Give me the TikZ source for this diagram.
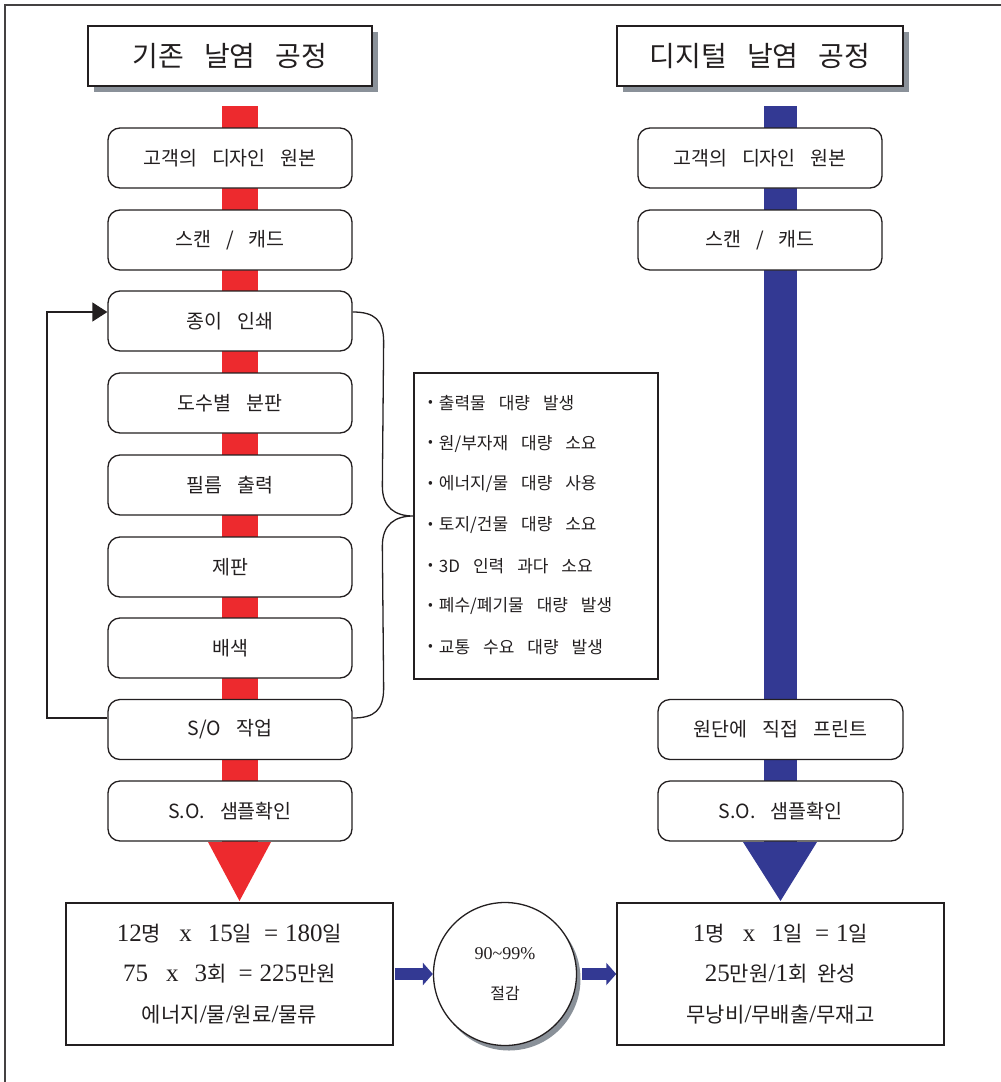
\documentclass[tikz,border=0pt]{standalone}
\usepackage{fontspec}
\setmainfont{Noto Sans CJK KR}[WordSpace=3.4]
\newfontfamily\ser{Liberation Serif}
\usetikzlibrary{arrows.meta,calc,shadows}
\definecolor{fred}{RGB}{237,42,46}
\definecolor{fblue}{RGB}{51,57,147}
\definecolor{shad}{RGB}{138,145,153}
\definecolor{ink}{RGB}{35,31,32}
\newcommand\numf[1]{{\ser\fontsize{25}{28}\selectfont #1}}
\newcommand\numc[1]{{\ser\fontsize{18}{20}\selectfont #1}}
\newcommand\bul{\raisebox{2.5pt}{\fontsize{14}{14}\selectfont •}\hspace{6pt}}
\begin{document}
\begin{tikzpicture}[x=1pt,y=-1pt,
 rbox/.style={draw=ink,line width=1.3pt,fill=white,rounded corners=12pt,minimum width=244pt,minimum height=60pt,inner sep=0pt,font=\fontsize{19.5}{22}\selectfont,text=ink},
 titlebox/.style={draw=ink,line width=1.5pt,fill=white,minimum height=60pt,inner sep=0pt,font=\fontsize{28}{30}\selectfont,text=ink,
   drop shadow={shadow xshift=6pt,shadow yshift=-6pt,opacity=1,fill=shad}},
 resbox/.style={draw=ink,line width=1.5pt,fill=white,minimum width=327pt,minimum height=142pt,inner sep=0pt,text=ink,align=center,font=\fontsize{21}{40.5}\selectfont},
 item/.style={anchor=west,inner sep=0pt,text=ink,font=\fontsize{17}{19}\selectfont},
 line/.style={draw=ink,line width=1.3pt},
 bigarrow/.style={fblue,line width=12pt,-{Triangle[length=10pt,width=22pt]}}
]
\useasboundingbox (0,0) rectangle (1001,1082);
\draw[ink!85,line width=1.5pt] (5,1082) -- (5,5) -- (1001,5);

% flow bars
\fill[fred] (222,106) rectangle (258,842);
\fill[fred] (208,842) -- (271,842) -- (239.5,901) -- cycle;
\fill[fblue] (764,106) rectangle (797,842);
\fill[fblue] (743,842) -- (817,842) -- (780.5,901) -- cycle;

% titles
\node[titlebox,minimum width=284pt] (t1) at (230,56) {기존\hspace{20pt}날염\hspace{20pt}공정};
\node[titlebox,minimum width=286pt] (t2) at (760,56) {디지털\hspace{20pt}날염\hspace{20pt}공정};

% left process
\node[rbox] (a1) at (230,158) {고객의 디자인 원본};
\node[rbox] (a2) at (230,240) {스캔 / 캐드};
\node[rbox] (a3) at (230,321) {종이 인쇄};
\node[rbox] (a4) at (230,403) {도수별 분판};
\node[rbox] (a5) at (230,485) {필름 출력};
\node[rbox] (a6) at (230,567) {제판};
\node[rbox] (a7) at (230,648) {배색};
\node[rbox] (a8) at (230,729.5) {S/O 작업};
\node[rbox] (a9) at (230,811) {S.O. 샘플확인};

% right process
\node[rbox] (b1) at (760,158) {고객의 디자인 원본};
\node[rbox] (b2) at (760,240) {스캔 / 캐드};
\node[rbox,minimum width=245pt] (b3) at (780.5,729.5) {원단에 직접 프린트};
\node[rbox,minimum width=245pt] (b4) at (780.5,811) {S.O. 샘플확인};

% list of problems
\node[line,minimum width=244pt,minimum height=306pt,inner sep=0pt] (lst) at (536,526) {};
\foreach \t [count=\i] in {출력물 대량 발생,원/부자재 대량 소요,에너지/물 대량 사용,토지/건물 대량 소요,3D 인력 과다 소요,폐수/폐기물 대량 발생,교통 수요 대량 발생}
  \node[item] (i\i) at ({428},{403+40.67*(\i-1)}) {\bul\t};

% results
\node[resbox] (lb) at (229.5,974) {\numf{12}명\hspace{18pt}\numf{x}\hspace{16pt}\numf{15}일\hspace{12pt}\numf{=}\hspace{7pt}\numf{180}일\\
\numf{75}\hspace{18pt}\numf{x}\hspace{16pt}\numf{3}회\hspace{12pt}\numf{=}\hspace{7pt}\numf{225}만원\\
에너지\numf{/}물\numf{/}원료\numf{/}물류};
\node[resbox] (rb) at (780.5,974) {\numf{1}명\hspace{18pt}\numf{x}\hspace{16pt}\numf{1}일\hspace{12pt}\numf{=}\hspace{7pt}\numf{1}일\\
\numf{25}만원\numf{/1}회\hspace{10pt}완성\\
무낭비\numf{/}무배출\numf{/}무재고};

\node[circle,draw=ink,line width=1.3pt,fill=white,minimum size=143pt,inner sep=0pt,text=ink,align=center,
  font=\fontsize{16}{40}\selectfont,
  drop shadow={shadow xshift=4pt,shadow yshift=-5pt,opacity=1,fill=shad}] (circ) at (505,974)
  {\numc{90\textasciitilde99\%}\\절감};

% blue arrows
\draw[bigarrow] ($(lb.east)+(1,0)$) -- (circ.west);
\draw[bigarrow] ($(circ.east)+(5,0)$) -- (rb.west);

% feedback loop
\coordinate (lx) at (47,0);
\coordinate (p3) at ($(a3.east)+(0,-9)$);
\coordinate (p8) at ($(a8.east)+(0,-11.5)$);
\coordinate (q3) at ($(a3.west)+(0,-9)$);
\coordinate (q8) at ($(a8.west)+(0,-11.5)$);
\draw[line,-{Triangle[length=15pt,width=19pt]}] (q8) -- (q8 -| lx) -- (q3 -| lx) -- (q3);

% brace
\coordinate (tip) at ($(lst.west)+(0,-10)$);
\draw[line] (p3) .. controls +(22,0) and +(0,-22) .. ($(p3)+(31,30)$)
  -- ($(tip)+(-31,-30)$) .. controls +(0,22) and +(-18,0) .. (tip)
  .. controls +(-18,0) and +(0,-22) .. ($(tip)+(-31,30)$)
  -- ($(p8)+(31,-30)$) .. controls +(0,22) and +(22,0) .. (p8);
\end{tikzpicture}
\end{document}
